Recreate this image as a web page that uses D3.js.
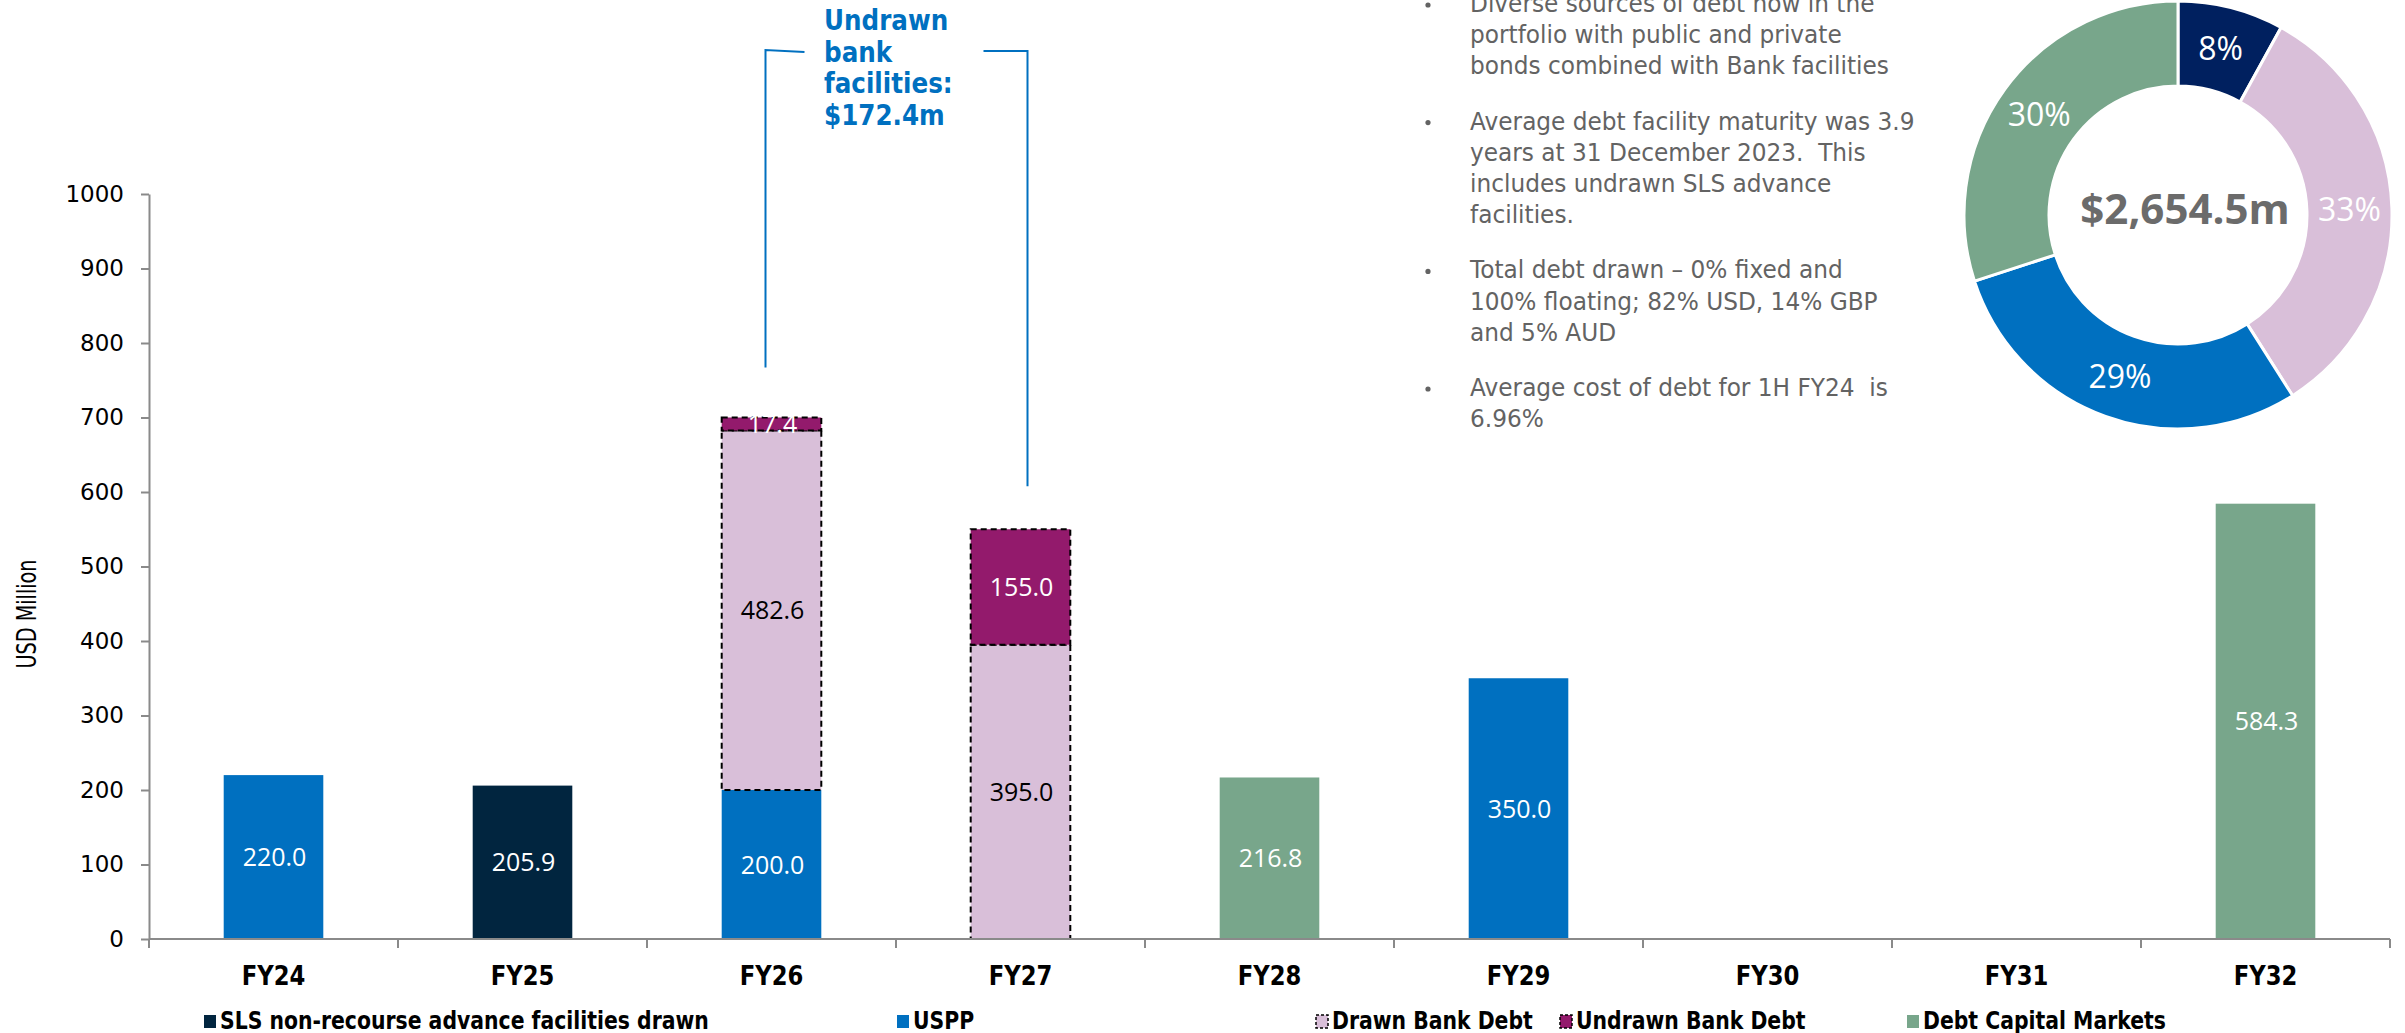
<!DOCTYPE html>
<html>
<head>
<meta charset="utf-8">
<script src="https://cdn.jsdelivr.net/npm/d3@7"></script>
<style>
  html, body { margin: 0; padding: 0; background: #ffffff; }
  svg { display: block; }
  text { white-space: pre; }
</style>
</head>
<body>
<svg id="chart" width="2405" height="1033"></svg>
<script>
// ---- Debt maturity profile (USD million) ----
const categories = ["FY24", "FY25", "FY26", "FY27", "FY28", "FY29", "FY30", "FY31", "FY32"];
const seriesNames = [
  "SLS non-recourse advance facilities drawn",
  "USPP",
  "Drawn Bank Debt",
  "Undrawn Bank Debt",
  "Debt Capital Markets"
];
const slsAdvanceDrawn    = [0, 205.9, 0, 0, 0, 0, 0, 0, 0];
const usppValues         = [220.0, 0, 200.0, 0, 0, 350.0, 0, 0, 0];
const drawnBankDebt      = [0, 0, 482.6, 395.0, 0, 0, 0, 0, 0];
const undrawnBankDebt    = [0, 0, 17.4, 155.0, 0, 0, 0, 0, 0];
const debtCapitalMarkets = [0, 0, 0, 0, 216.8, 0, 0, 0, 584.3];
const yTickValues = [0, 100, 200, 300, 400, 500, 600, 700, 800, 900, 1000];
const yAxisTitle = "USD Million";

// ---- Drawn debt mix (donut) ----
const mixNames  = ["SLS non-recourse advance facilities drawn", "Drawn Bank Debt", "USPP", "Debt Capital Markets"];
const mixShares = [8, 33, 29, 30];
const mixTotalLabel = "$2,654.5m";

// ---- Callout & commentary ----
const undrawnCallout = ["Undrawn", "bank", "facilities:", "$172.4m"];
const commentary = [
  ["Diverse sources of debt now in the", "portfolio with public and private", "bonds combined with Bank facilities"],
  ["Average debt facility maturity was 3.9", "years at 31 December 2023.  This", "includes undrawn SLS advance", "facilities."],
  ["Total debt drawn \u2013 0% fixed and", "100% floating; 82% USD, 14% GBP", "and 5% AUD"],
  ["Average cost of debt for 1H FY24  is", "6.96%"]
];

// ---- styling ----
const colors = {
  "SLS non-recourse advance facilities drawn": "#01253F",
  "USPP": "#0070C0",
  "Drawn Bank Debt": "#D9BFD9",
  "Undrawn Bank Debt": "#931A6C",
  "Debt Capital Markets": "#78A68B"
};
const donutColors = {
  "SLS non-recourse advance facilities drawn": "#00205F",
  "Drawn Bank Debt": "#D9BFD9",
  "USPP": "#0070C0",
  "Debt Capital Markets": "#78A68B"
};
const dashedSeries = new Set(["Drawn Bank Debt", "Undrawn Bank Debt"]);
const darkLabelSeries = new Set(["Drawn Bank Debt"]);

const SANS = "'DejaVu Sans', Verdana, sans-serif";
const SQ = 0.875;            // horizontal squeeze giving a Tahoma-like width
const LABEL_FONT = "'Open Sans', 'Noto Sans', sans-serif";
const AXIS_GREY = "#8a8a8a";

const svg = d3.select("#chart");

// squeezed text helper
function sqText(sel, x, y, str, opts) {
  return sel.append("text")
    .attr("transform", `translate(${x},${y}) scale(${opts.sq || SQ},1)`)
    .attr("font-family", SANS)
    .attr("font-size", opts.size)
    .attr("font-weight", opts.weight || "normal")
    .attr("fill", opts.fill || "#000")
    .attr("text-anchor", opts.anchor || "start")
    .text(str);
}

// ---------------- bar chart ----------------
const plot = { left: 149, right: 2390, top: 194, bottom: 939 };

const x = d3.scaleBand().domain(categories).range([plot.left, plot.right]).padding(0);
const barW = x.bandwidth() * 0.4;
const y = d3.scaleLinear().domain([0, 1000]).range([plot.bottom, plot.top]);

const seriesData = [slsAdvanceDrawn, usppValues, drawnBankDebt, undrawnBankDebt, debtCapitalMarkets];
const rows = categories.map((c, i) => {
  const r = { category: c };
  seriesNames.forEach((s, k) => { r[s] = seriesData[k][i]; });
  return r;
});
const stacked = d3.stack().keys(seriesNames)(rows);

// y axis
const yAxis = svg.append("g")
  .attr("transform", `translate(${plot.left},0)`)
  .call(d3.axisLeft(y).tickValues(yTickValues).tickFormat(d3.format("d"))
    .tickSize(8).tickSizeOuter(0).tickPadding(17));
yAxis.select(".domain").attr("stroke", AXIS_GREY).attr("stroke-width", 2);
yAxis.selectAll(".tick line").attr("stroke", AXIS_GREY).attr("stroke-width", 2);
yAxis.selectAll(".tick text")
  .attr("font-family", SANS).attr("font-size", 23).attr("fill", "#000");

// y axis title
sqText(svg, 0, 0, yAxisTitle, { size: 26, anchor: "middle" })
  .attr("transform", `translate(36,614) rotate(-90) scale(0.74,1)`);

// bars
const layer = svg.append("g").selectAll("g").data(stacked).join("g");
layer.each(function (s) {
  const g = d3.select(this);
  const segs = s.filter(d => d[1] - d[0] > 0);
  g.selectAll("rect").data(segs).join("rect")
    .attr("x", d => x(d.data.category) + (x.bandwidth() - barW) / 2)
    .attr("width", barW)
    .attr("y", d => y(d[1]))
    .attr("height", d => y(d[0]) - y(d[1]))
    .attr("fill", colors[s.key])
    .attr("stroke", dashedSeries.has(s.key) ? "#000" : "none")
    .attr("stroke-width", 2)
    .attr("stroke-dasharray", dashedSeries.has(s.key) ? "6,4" : null);
});

// segment value labels
stacked.forEach(s => {
  s.filter(d => d[1] - d[0] > 0).forEach(d => {
    svg.append("text")
      .attr("x", x(d.data.category) + x.bandwidth() / 2 + 1)
      .attr("y", (y(d[0]) + y(d[1])) / 2)
      .attr("dy", "0.36em")
      .attr("text-anchor", "middle")
      .attr("font-family", LABEL_FONT)
      .attr("font-size", 25)
      .attr("fill", darkLabelSeries.has(s.key) ? "#000" : "#fff")
      .text((d[1] - d[0]).toFixed(1));
  });
});

// x axis
const xAxisG = svg.append("g");
xAxisG.append("line")
  .attr("x1", plot.left).attr("x2", plot.right)
  .attr("y1", plot.bottom).attr("y2", plot.bottom)
  .attr("stroke", AXIS_GREY).attr("stroke-width", 2);
const boundaries = categories.map(c => x(c)).concat([plot.right]);
xAxisG.selectAll("line.tick").data(boundaries).join("line")
  .attr("class", "tick")
  .attr("x1", d => d).attr("x2", d => d)
  .attr("y1", plot.bottom).attr("y2", plot.bottom + 9)
  .attr("stroke", AXIS_GREY).attr("stroke-width", 2);
categories.forEach(c => {
  sqText(xAxisG, x(c) + x.bandwidth() / 2, 985, c, { size: 26, weight: "bold", anchor: "middle" });
});

// legend
const legendX = [204, 897, 1316, 1560, 1907];
const legend = svg.append("g");
seriesNames.forEach((name, i) => {
  legend.append("rect")
    .attr("x", legendX[i]).attr("y", 1015)
    .attr("width", 12).attr("height", 13)
    .attr("fill", colors[name])
    .attr("stroke", dashedSeries.has(name) ? "#000" : "none")
    .attr("stroke-width", 1.5)
    .attr("stroke-dasharray", dashedSeries.has(name) ? "3,2" : null);
  sqText(legend, legendX[i] + 16, 1029, name, { size: 24, weight: "bold", sq: 0.85 });
});

// undrawn bank facilities callout
const fy26c = x("FY26") + x.bandwidth() / 2;
const fy27c = x("FY27") + x.bandwidth() / 2;
const fy26Top = y(d3.sum(seriesData, s => s[2]));
const fy27Top = y(d3.sum(seriesData, s => s[3]));
const bracketY = 50;
const callout = svg.append("g").attr("fill", "none").attr("stroke", "#0070C0").attr("stroke-width", 2);
callout.append("path").attr("d", `M${fy26c - 6},${fy26Top - 50} V${bracketY} L${fy26c + 33},${bracketY + 2}`);
callout.append("path").attr("d", `M${fy27c - 37},${bracketY + 1} H${fy27c + 7} V${fy27Top - 43}`);
undrawnCallout.forEach((line, i) => {
  sqText(svg, 824, 30 + i * 31.5, line, { size: 28, weight: "bold", fill: "#0070C0", sq: 0.88 });
});

// commentary bullets
const bullets = svg.append("g");
let by = 12;
commentary.forEach(par => {
  bullets.append("circle").attr("cx", 1428).attr("cy", by - 7).attr("r", 2.6).attr("fill", "#636363");
  par.forEach(line => {
    sqText(bullets, 1470, by, line, { size: 25, fill: "#636363", sq: 0.93 });
    by += 31.2;
  });
  by += 24;
});

// ---------------- donut ----------------
const donutC = { x: 2178, y: 215 };
const rOuter = 214, rInner = 129;
const pie = d3.pie().sort(null).value(d => d.share);
const arcs = pie(mixNames.map((n, i) => ({ name: n, share: mixShares[i] })));
const arc = d3.arc().innerRadius(rInner).outerRadius(rOuter);
const labelArc = d3.arc().innerRadius((rInner + rOuter) / 2).outerRadius((rInner + rOuter) / 2);
const donut = svg.append("g").attr("transform", `translate(${donutC.x},${donutC.y})`);
donut.selectAll("path").data(arcs).join("path")
  .attr("d", arc)
  .attr("fill", d => donutColors[d.data.name])
  .attr("stroke", "#fff").attr("stroke-width", 3);
donut.selectAll("text.pct").data(arcs).join("text")
  .attr("class", "pct")
  .attr("transform", d => `translate(${labelArc.centroid(d)})`)
  .attr("text-anchor", "middle")
  .attr("dy", "0.36em")
  .attr("font-family", LABEL_FONT)
  .attr("font-size", 32)
  .attr("fill", "#fff")
  .text(d => d.data.share + "%");
donut.append("text")
  .attr("x", 7).attr("y", 9)
  .attr("text-anchor", "middle")
  .attr("font-family", LABEL_FONT)
  .attr("font-weight", "bold")
  .attr("font-size", 42)
  .attr("fill", "#6b6b6b")
  .text(mixTotalLabel);
</script>
</body>
</html>
